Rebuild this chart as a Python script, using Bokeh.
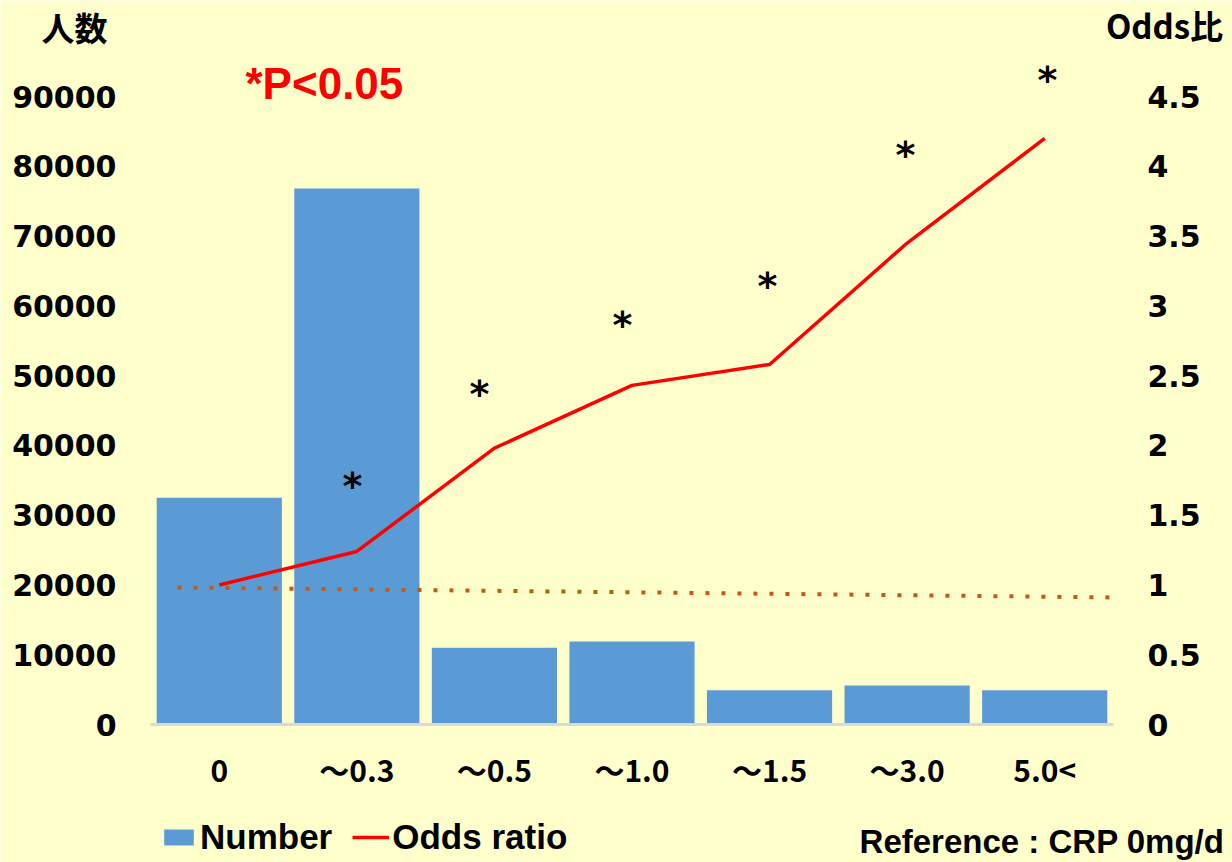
from bokeh.plotting import figure
from bokeh.models import (Range1d, LinearAxis, FixedTicker, CustomJSTickFormatter,
                          NumeralTickFormatter, Label, Legend, LegendItem)
from bokeh.core.properties import value
from bokeh.embed import file_html
from bokeh.resources import INLINE

# CRP intake groups (mg/d)
categories = ["0", "～0.3", "～0.5", "～1.0", "～1.5", "～3.0", "5.0<"]
# number of people per group
counts = [32500, 76800, 11000, 11900, 4900, 5600, 4900]
# odds ratio per group (reference: CRP 0 mg/d)
odds = [1.0, 1.24, 1.98, 2.43, 2.58, 3.45, 4.20]
# significance marks (*): position along the group axis and odds-scale height
sig_mark_x = [1.468, 2.391, 3.431, 4.485, 5.488, 6.520]
sig_mark_y = [1.71, 2.37, 2.86, 3.14, 4.08, 4.62]
# reference line around odds ratio 1
ref_x = [0.196, 7.05]
ref_y = [0.982, 0.910]

count_ticks = list(range(0, 90001, 10000))
odds_ticks = [0, 0.5, 1, 1.5, 2, 2.5, 3, 3.5, 4, 4.5]

BG = "#FFFFCC"
BAR = "#5B9BD5"
RED = "#FF0000"
NUM_FONT = "DejaVu Sans"
CJK_FONT = "Noto Sans CJK JP"
TXT_FONT = "Liberation Sans"

W, H = 1232, 862
# pixel layout of the plotting area inside the canvas
LEFT, RIGHT, TOP, BOTTOM = 150, 1113, 96, 724
ncat = len(categories)
px_per_cat = (RIGHT - LEFT) / ncat
px_per_count = (BOTTOM - TOP) / count_ticks[-1]
odds_per_count = odds_ticks[-1] / count_ticks[-1]

x0 = -LEFT / px_per_cat
x1 = ncat + (W - RIGHT) / px_per_cat
y0 = -(H - BOTTOM) / px_per_count
y1 = BOTTOM / px_per_count

centers = [i + 0.5 for i in range(ncat)]

p = figure(width=W, height=H,
           x_range=Range1d(x0, x1), y_range=Range1d(y0, y1),
           output_backend="svg", toolbar_location=None,
           min_border=0, min_border_left=0, min_border_right=0,
           min_border_top=0, min_border_bottom=0,
           background_fill_color=BG, border_fill_color=BG,
           outline_line_color=None)
p.extra_y_ranges = {"odds": Range1d(y0 * odds_per_count, y1 * odds_per_count)}
p.grid.visible = False


def style_axis(ax, font, size, standoff):
    ax.axis_line_color = None
    ax.major_tick_line_color = None
    ax.minor_tick_line_color = None
    ax.major_tick_in = 0
    ax.major_tick_out = 0
    ax.major_label_standoff = standoff
    ax.major_label_text_font = font
    ax.major_label_text_font_style = "bold"
    ax.major_label_text_font_size = size
    ax.major_label_text_color = "black"


def screen_y(py):
    """Count-scale value for a vertical pixel position measured from the top."""
    return (BOTTOM - py) / px_per_count


def screen_x(px):
    """Group-scale value for a horizontal pixel position."""
    return (px - LEFT) / px_per_cat


# left axis: number of people
ya = p.yaxis[0]
ya.ticker = FixedTicker(ticks=count_ticks)
ya.fixed_location = 0
style_axis(ya, NUM_FONT, "30px", 34)

# right axis: odds ratio
ra = LinearAxis(y_range_name="odds", ticker=FixedTicker(ticks=odds_ticks),
                formatter=NumeralTickFormatter(format="0.[0]"))
ra.fixed_location = ncat
style_axis(ra, NUM_FONT, "30px", 34)
p.add_layout(ra, "right")

# bottom axis: groups
xa = p.xaxis[0]
xa.ticker = FixedTicker(ticks=centers)
xa.formatter = CustomJSTickFormatter(args=dict(labels=categories),
                                     code="return labels[Math.floor(tick)]")
xa.fixed_location = 0
style_axis(xa, CJK_FONT, "30px", 22)
xa.axis_line_color = "#D9D9D9"
xa.axis_line_width = 3
xa.bounds = (0, ncat)

bars = p.vbar(x=centers, top=counts, width=0.91, bottom=0,
              fill_color=BAR, line_color=None)

p.line(x=ref_x, y=ref_y, y_range_name="odds", line_color="#C65911",
       line_width=4, line_dash="4 12")

odds_line = p.line(x=centers, y=odds, y_range_name="odds",
                   line_color=RED, line_width=3.5)

p.text(x=sig_mark_x, y=sig_mark_y, y_range_name="odds",
       text=["*"] * len(sig_mark_x), text_font=value(NUM_FONT),
       text_font_style="bold", text_font_size="38px", text_color="black",
       text_align="center", text_baseline="middle")

# axis titles and notes
p.add_layout(Label(x=screen_x(74), y=screen_y(26), text="人数", text_font=CJK_FONT,
                   text_font_size="33px", text_font_style="bold",
                   text_align="center", text_baseline="middle",
                   text_color="black"))
p.add_layout(Label(x=screen_x(1164), y=screen_y(24), text="Odds比", text_font=CJK_FONT,
                   text_font_size="33px", text_font_style="bold",
                   text_align="center", text_baseline="middle",
                   text_color="black"))
p.add_layout(Label(x=screen_x(245), y=screen_y(83), text="*P<0.05", text_font=TXT_FONT,
                   text_font_size="44px", text_font_style="bold",
                   text_align="left", text_baseline="middle",
                   text_color=RED))
p.add_layout(Label(x=screen_x(1224), y=screen_y(841), text="Reference : CRP 0mg/d",
                   text_font=TXT_FONT, text_font_size="33px",
                   text_font_style="bold", text_align="right",
                   text_baseline="middle", text_color="black"))

legend = Legend(items=[LegendItem(label="Number", renderers=[bars]),
                       LegendItem(label="Odds ratio", renderers=[odds_line])],
                orientation="horizontal", location=(160, 5),
                margin=0, padding=0, spacing=20,
                glyph_width=37, glyph_height=20, label_standoff=3,
                label_text_font=TXT_FONT, label_text_font_style="bold",
                label_text_font_size="35px", label_text_color="black",
                background_fill_alpha=0, border_line_color=None)
p.add_layout(legend)

open("out.html", "w").write(file_html(p, INLINE))
